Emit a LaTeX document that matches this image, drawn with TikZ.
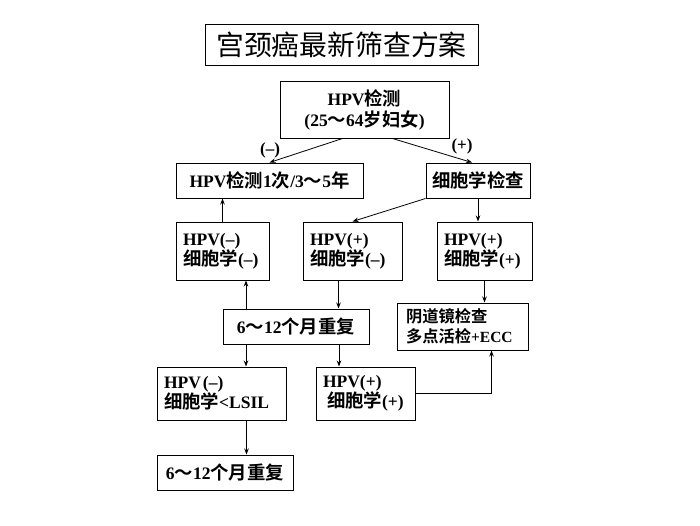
\documentclass[tikz,border=0pt]{standalone}
\usepackage{fontspec}
\setmainfont{Liberation Serif}
\newfontfamily\cjk{Noto Sans CJK SC}[BoldFont=* Bold, Scale=1.05]
\newcommand\zh[1]{{\cjk #1}}
\usetikzlibrary{arrows.meta}
\tikzset{
 box/.style={draw, line width=1pt, inner sep=0pt, font=\bfseries\fontsize{17.5}{20}\selectfont},
 lbox/.style={box, inner xsep=7pt, align=left},
 arr/.style={-{Stealth[length=6pt,width=4.5pt]}, line width=0.8pt},
 sign/.style={font=\bfseries\fontsize{17}{17}\selectfont}
}

\begin{document}
\begin{tikzpicture}[x=1pt,y=-1pt]
 \useasboundingbox (0,0) rectangle (700,525);
 \node[draw, line width=1pt, minimum width=273pt, minimum height=41pt, font=\cjk\fontsize{26.5}{26.5}\selectfont] (title) at (341.5,44.5) {宫颈癌最新筛查方案};
 \node[box, align=center, minimum width=169pt, minimum height=57pt] (hpv) at (364.5,109.5) {HPV\zh{检测}\\[1pt](25\zh{～}64\zh{岁妇女})};
 \node[box, minimum width=187pt, minimum height=35pt] (neg) at (269.5,180.5) {HPV\zh{检测}1\zh{次}/3\zh{～}5\zh{年}};
 \node[box, minimum width=104pt, minimum height=35pt] (cyto) at (478,180.5) {\zh{细胞学检查}};
 \node[lbox, text width=79pt, minimum height=58pt] (nn) at (222.5,251) {HPV(–)\\\zh{细胞学}(–)};
 \node[lbox, text width=85pt, minimum height=58pt] (pn) at (352.5,251) {HPV(+)\\\zh{细胞学}(–)};
 \node[lbox, text width=81pt, minimum height=58pt] (pp) at (484.5,251) {HPV(+)\\\zh{细胞学}(+)};
 \node[box, minimum width=146pt, minimum height=35pt] (rep1) at (296,326.5) {6\zh{～}12\zh{个月重复}};
 \node[lbox, inner xsep=9pt, text width=113pt, minimum height=47pt, font=\bfseries\fontsize{15.5}{20}\selectfont] (colpo) at (462.5,326.5) {\zh{阴道镜检查}\\\zh{多点活检}+ECC};
 \node[lbox, text width=115pt, minimum height=53pt] (lsil) at (221.5,393.5) {HPV\hspace{2pt}(–)\\\zh{细胞学}<LSIL};
 \node[lbox, text width=85pt, minimum height=53pt] (pp2) at (365.5,393.5) {HPV(+)\\\hspace{4pt}\zh{细胞学}(+)};
 \node[box, minimum width=136pt, minimum height=35pt] (rep2) at (225,472.5) {6\zh{～}12\zh{个月重复}};
 % branches from the first test
 \draw[arr] ([xshift=-22pt]hpv.south) -- (neg.north);
 \draw[arr] ([xshift=28pt]hpv.south) -- ([xshift=-6pt]cyto.north);
 \node[sign] (minus) at (270,150) {(–)};
 \node[sign] (plus) at (462,146) {(+)};
 % cytology results
 \draw[arr] (cyto.south west) -- (pn.north);
 \draw[arr] (cyto.south) -- (cyto.south |- pp.north);
 \draw[arr] (nn.north) -- (nn.north |- neg.south);
 \draw[arr] ([xshift=-14pt]pn.south) -- ([xshift=-14pt]pn.south |- rep1.north);
 \draw[arr] (pp.south) -- (pp.south |- colpo.north);
 % repeat after 6-12 months
 \draw[arr] ([xshift=-50pt]rep1.north) -- ([xshift=-50pt]rep1.north |- nn.south);
 \draw[arr] ([xshift=-50pt]rep1.south) -- ([xshift=-50pt]rep1.south |- lsil.north);
 \draw[arr] ([xshift=43pt]rep1.south) -- ([xshift=43pt]rep1.south |- pp2.north);
 \draw[arr] (pp2.east) -| ([xshift=29pt]colpo.south);
 \draw[arr] ([xshift=25pt]lsil.south) -- ([xshift=25pt]lsil.south |- rep2.north);
\end{tikzpicture}
\end{document}
